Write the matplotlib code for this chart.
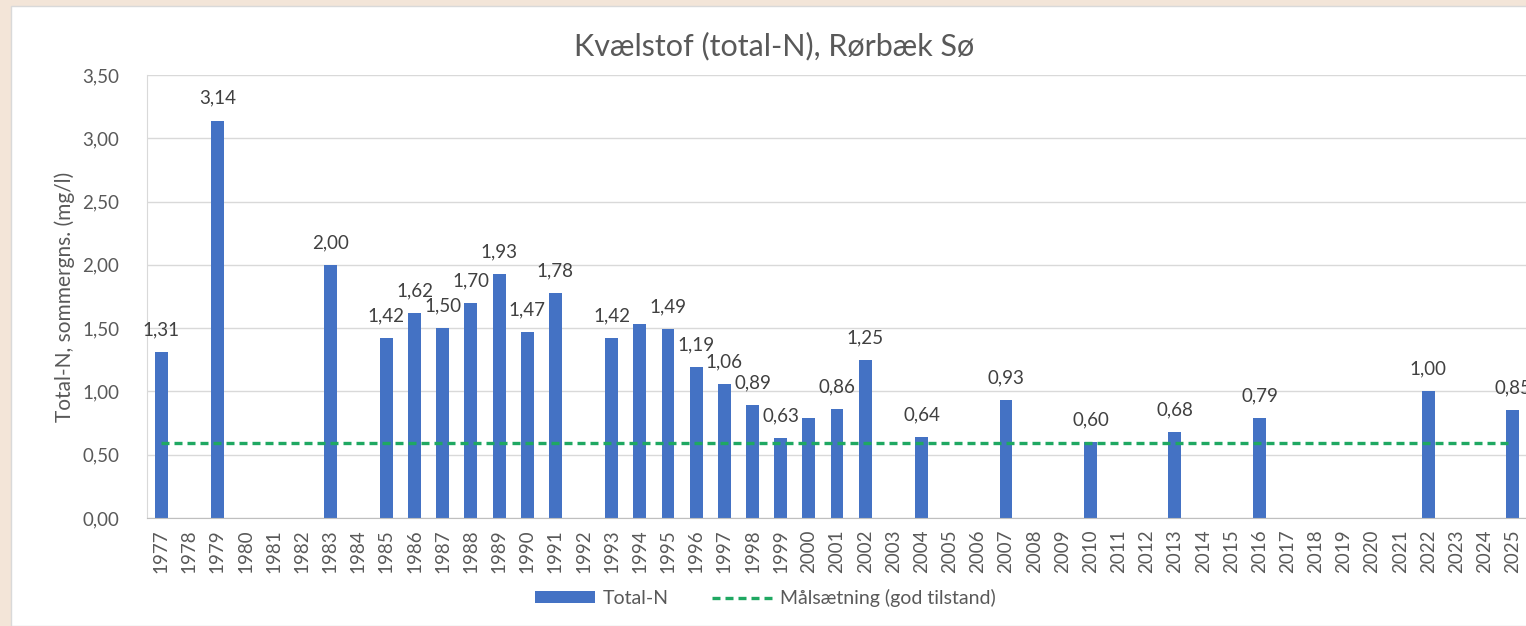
import matplotlib.pyplot as plt
from matplotlib.patches import Rectangle
from matplotlib.ticker import FuncFormatter, MultipleLocator

plt.rcParams['font.family'] = ['Lato', 'DejaVu Sans']

# data
years = [str(y) for y in range(1977, 2026)]
measured_years = [1977, 1979, 1983, 1985, 1986, 1987, 1988, 1989, 1990, 1991,
                  1993, 1994, 1995, 1996, 1997, 1998, 1999, 2000, 2001, 2002,
                  2004, 2007, 2010, 2013, 2016, 2022, 2025]
total_n = [1.31, 3.14, 2.00, 1.42, 1.62, 1.50, 1.70, 1.93, 1.47, 1.78,
           1.42, 1.53, 1.49, 1.19, 1.06, 0.89, 0.63, 0.79, 0.86, 1.25,
           0.64, 0.93, 0.60, 0.68, 0.79, 1.00, 0.85]
show_label = [1, 1, 1, 1, 1, 1, 1, 1, 1, 1,
              1, 0, 1, 1, 1, 1, 1, 0, 1, 1,
              1, 1, 1, 1, 1, 1, 1]
target = 0.59

bar_color = '#4472C4'
green = '#1fa862'
text_gray = '#595959'

fig = plt.figure(figsize=(15.26, 6.26), dpi=100)
fig.patch.set_facecolor('#f3e5d8')
# white chart panel
fig.patches.append(Rectangle((11 / 1526, 0), 1.0, 1 - 6 / 626, transform=fig.transFigure,
                             facecolor='white', edgecolor='#d9d9d9', lw=1, zorder=-5))

ax = fig.add_axes([147 / 1526, 1 - 518 / 626, 1380 / 1526, (518 - 75) / 626])
ax.set_facecolor('white')

xpos = [years.index(str(y)) for y in measured_years]
bars = ax.bar(xpos, total_n, width=0.46, color=bar_color, zorder=2, label='Total-N')

line, = ax.plot([0, len(years) - 1], [target, target], color=green, lw=2.4,
                linestyle=(0, (2.4, 1.5)), zorder=3, label='Målsætning (god tilstand)')

for x, v, s in zip(xpos, total_n, show_label):
    if s:
        ax.annotate(f'{v:.2f}'.replace('.', ','), (x, v), xytext=(0, 16),
                    textcoords='offset points', ha='center', va='center',
                    fontsize=13.5, color='#404040', annotation_clip=False)

ax.set_xlim(-0.5, len(years) - 0.5)
ax.set_ylim(0, 3.5)
ax.yaxis.set_major_locator(MultipleLocator(0.5))
ax.yaxis.set_major_formatter(FuncFormatter(lambda v, p: f'{v:.2f}'.replace('.', ',')))
ax.set_xticks(range(len(years)))
ax.set_xticklabels(years, rotation=90)
ax.tick_params(axis='both', length=0, labelsize=13.5, colors=text_gray)
ax.tick_params(axis='y', pad=20)
ax.tick_params(axis='x', pad=8)
ax.grid(axis='y', color='#d9d9d9', lw=1, zorder=0)
ax.set_axisbelow(True)
for side in ['top', 'right']:
    ax.spines[side].set_visible(False)
ax.spines['left'].set_color('#d9d9d9')
ax.spines['bottom'].set_color('#bfbfbf')

ax.set_ylabel('Total-N, sommergns. (mg/l)', fontsize=15, color=text_gray, labelpad=5)
fig.text(774 / 1526, 1 - 46 / 626, 'Kvælstof (total-N), Rørbæk Sø', ha='center', va='center',
         fontsize=22, color=text_gray)

fig.legend(handles=[bars, line], loc='center', bbox_to_anchor=(765 / 1526, 1 - 598 / 626),
           ncol=2, frameon=False, fontsize=14, handlelength=3.1, handleheight=0.6,
           handletextpad=0.4, columnspacing=2.2, labelcolor=text_gray)

fig.savefig('out.png', dpi=100, facecolor=fig.get_facecolor())
